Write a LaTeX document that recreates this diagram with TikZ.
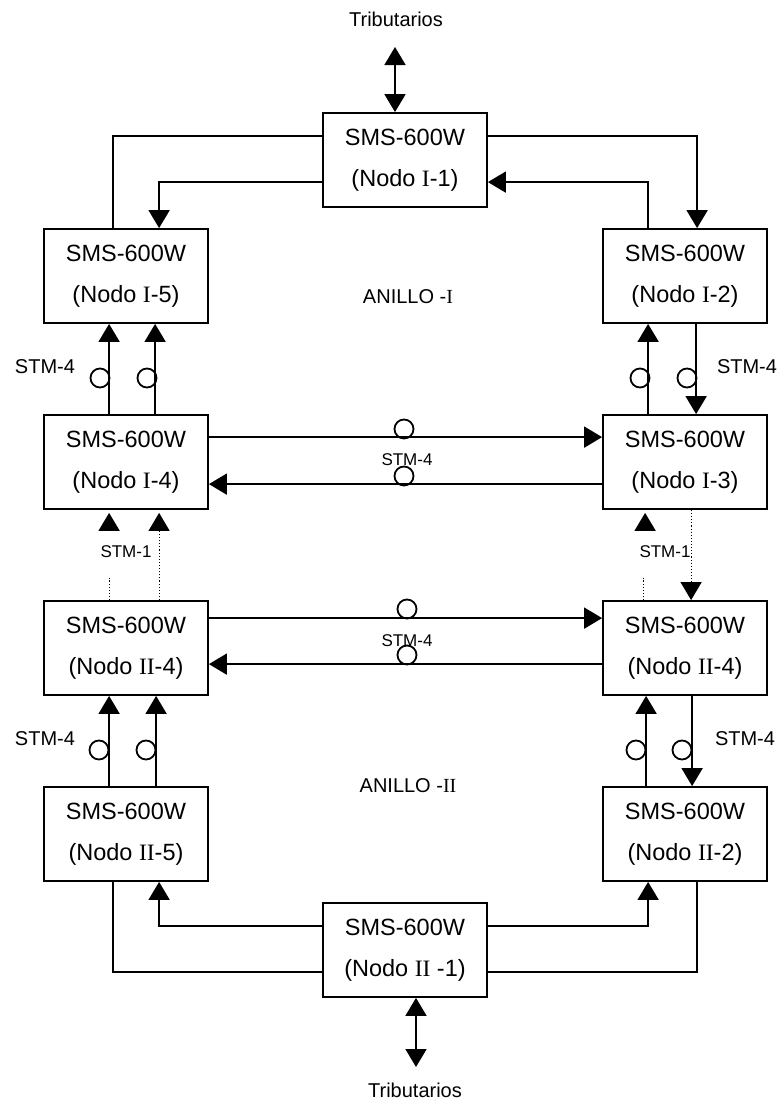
\documentclass[tikz,border=0pt]{standalone}
\usepackage{fontspec}
\setmainfont{Liberation Sans}
\newfontfamily\romfont{Liberation Serif}
\usetikzlibrary{arrows.meta,calc}
\newcommand{\rn}[1]{{\romfont #1}}

\begin{document}
\begin{tikzpicture}[
  x=1pt, y=-1pt, >={Triangle[length=18pt,width=21pt]},
  line width=1.8pt,
  box/.style={draw, minimum width=164pt, minimum height=94pt, inner sep=0pt,
    align=center, font=\fontsize{23.5}{41}\selectfont},
  ring/.style={draw, circle, minimum size=19pt, inner sep=0pt},
  lbl/.style={inner sep=0pt, font=\fontsize{20}{20}\selectfont},
  smalllbl/.style={inner sep=0pt, font=\fontsize{17}{17}\selectfont},
  dotline/.style={dotted, line width=1.1pt},
]
\useasboundingbox (0,0) rectangle (779,1101);

% ring I
\node[box] (I1) at (405,160) {SMS-600W\\(Nodo \rn{I}-1)};
\node[box] (I5) at (126,276) {SMS-600W\\(Nodo \rn{I}-5)};
\node[box] (I2) at (685,276) {SMS-600W\\(Nodo \rn{I}-2)};
\node[box] (I4) at (126,462) {SMS-600W\\(Nodo \rn{I}-4)};
\node[box] (I3) at (685,462) {SMS-600W\\(Nodo \rn{I}-3)};

% ring II
\node[box] (IIa) at (126,648) {SMS-600W\\(Nodo \rn{II}-4)};
\node[box] (IIb) at (685,648) {SMS-600W\\(Nodo \rn{II}-4)};
\node[box] (II5) at (126,834) {SMS-600W\\(Nodo \rn{II}-5)};
\node[box] (II2) at (685,834) {SMS-600W\\(Nodo \rn{II}-2)};
\node[box] (II1) at (405,950) {SMS-600W\\(Nodo \rn{II} -1)};

% labels
\node[lbl] (trib1) at (396,19) {Tributarios};
\node[lbl] (trib2) at (415,1090) {Tributarios};
\node[lbl] (an1) at (408,297) {ANILLO -\rn{I}};
\node[lbl] (an2) at (408,786) {ANILLO -\rn{II}};
\node[lbl] (s1) at (45,367) {STM-4};
\node[lbl] (s2) at (747,367) {STM-4};
\node[lbl] (s3) at (45,739) {STM-4};
\node[lbl] (s4) at (745,739) {STM-4};
\node[smalllbl] (s5) at (407,460) {STM-4};
\node[smalllbl] (s6) at (407,641) {STM-4};
\node[smalllbl] (s7) at (126,552) {STM-1};
\node[smalllbl] (s8) at (665,552) {STM-1};

% tributaries
\coordinate (t1) at (395,47);
\coordinate (t2) at (416,1067);
\draw[<->] (t1) -- (t1 |- I1.north);
\draw[<->] (t2 |- II1.south) -- (t2);

% I-1 to I-5 / I-2
\draw ($(I1.north west)+(0,24)$) -| ($(I5.north west)+(70,0)$);
\draw[->] ($(I1.north west)+(0,70)$) -| ($(I5.north west)+(116,0)$);
\draw[->] ($(I1.north east)+(0,24)$) -| ($(I2.north west)+(95,0)$);
\draw[->] ($(I2.north west)+(46,0)$) |- ($(I1.north east)+(0,70)$);

% I-4 to I-5, I-2 to I-3
\draw[->] ($(I4.north west)+(66,0)$) -- ($(I5.south west)+(66,0)$);
\draw[->] ($(I4.north west)+(112,0)$) -- ($(I5.south west)+(112,0)$);
\draw[->] ($(I3.north west)+(46,0)$) -- ($(I2.south west)+(46,0)$);
\draw[->] ($(I2.south west)+(94,0)$) -- ($(I3.north west)+(94,0)$);
\node[ring] (c1) at (100,378) {};
\node[ring] (c2) at (147,378) {};
\node[ring] (c3) at (640,378) {};
\node[ring] (c4) at (687,378) {};

% I-4 and I-3
\draw[->] ($(I4.north east)+(0,23)$) -- ($(I3.north west)+(0,23)$);
\draw[->] ($(I3.north west)+(0,70)$) -- ($(I4.north east)+(0,70)$);
\node[ring] (c5) at (404,429) {};
\node[ring] (c6) at (404,476) {};

% STM-1 between the rings
\draw[->] ($(I4.south west)+(66,21)$) -- ($(I4.south west)+(66,3)$);
\draw[dotline, ->] ($(IIa.north west)+(116,0)$) -- ($(I4.south west)+(116,3)$);
\draw[dotline] ($(IIa.north west)+(66,0)$) -- ++(0,-22);
\draw[->] ($(I3.south west)+(43,21)$) -- ($(I3.south west)+(43,3)$);
\draw[dotline, ->] ($(I3.south west)+(89,0)$) -- ($(IIb.north west)+(89,0)$);
\draw[dotline] ($(IIb.north west)+(41,0)$) -- ++(0,-22);

% II-4 and II-4
\draw[->] ($(IIa.north east)+(0,18)$) -- ($(IIb.north west)+(0,18)$);
\draw[->] ($(IIb.north west)+(0,64)$) -- ($(IIa.north east)+(0,64)$);
\node[ring] (c7) at (407,609) {};
\node[ring] (c8) at (407,655) {};

% II-5 to II-4, II-4 to II-2
\draw[->] ($(II5.north west)+(66,0)$) -- ($(IIa.south west)+(66,0)$);
\draw[->] ($(II5.north west)+(113,0)$) -- ($(IIa.south west)+(113,0)$);
\draw[->] ($(II2.north west)+(44,0)$) -- ($(IIb.south west)+(44,0)$);
\draw[->] ($(IIb.south west)+(90,0)$) -- ($(II2.north west)+(90,0)$);
\node[ring] (c9) at (99,750) {};
\node[ring] (c10) at (146,750) {};
\node[ring] (c11) at (636,750) {};
\node[ring] (c12) at (682,750) {};

% II-1 to II-5 / II-2
\draw[->] ($(II1.north west)+(0,24)$) -| ($(II5.south west)+(116,0)$);
\draw ($(II1.north west)+(0,70)$) -| ($(II5.south west)+(70,0)$);
\draw[->] ($(II1.north east)+(0,24)$) -| ($(II2.south west)+(46,0)$);
\draw ($(II1.north east)+(0,70)$) -| ($(II2.south west)+(95,0)$);
\end{tikzpicture}
\end{document}
